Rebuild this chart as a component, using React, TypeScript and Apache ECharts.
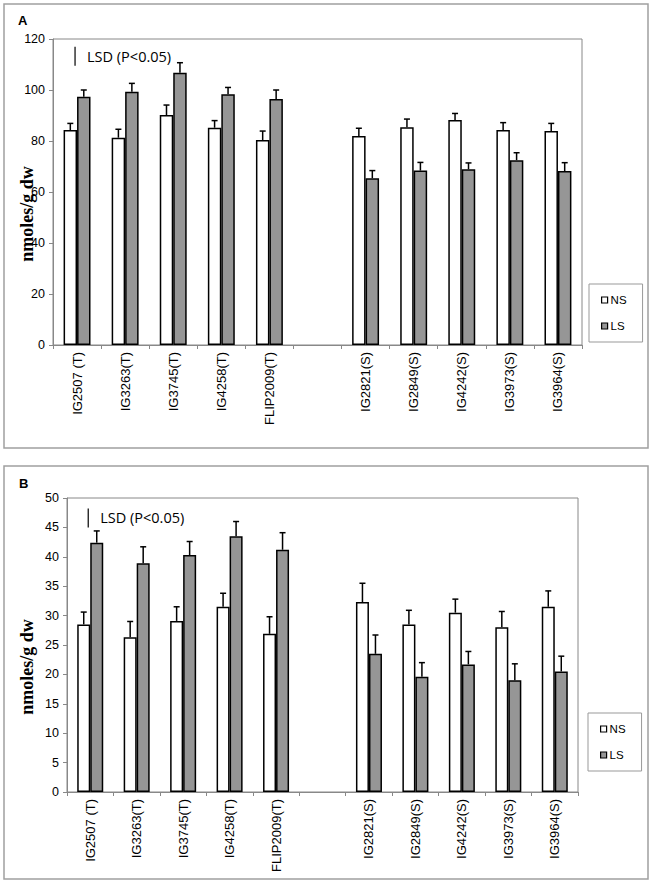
import React, { useEffect, useRef } from "react";
import * as echarts from "echarts";

const categories = [
  "IG2507 (T)", "IG3263(T)", "IG3745(T)", "IG4258(T)", "FLIP2009(T)", "",
  "IG2821(S)", "IG2849(S)", "IG4242(S)", "IG3973(S)", "IG3964(S)",
];

const aNS = [84.3, 81.3, 90.2, 85.2, 80.4, null, 82.0, 85.4, 88.2, 84.3, 83.9];
const aNSerr = [2.6, 3.3, 3.9, 2.8, 3.5, null, 3.0, 3.2, 2.6, 2.9, 3.0];
const aLS = [97.4, 99.3, 106.8, 98.3, 96.5, null, 65.4, 68.4, 68.9, 72.5, 68.2];
const aLSerr = [2.6, 3.3, 3.9, 2.7, 3.5, null, 3.0, 3.2, 2.5, 2.9, 3.3];
const aLSD = [109.5, 117];

const bNS = [28.5, 26.3, 29.1, 31.5, 26.9, null, 32.3, 28.5, 30.5, 28.0, 31.5];
const bNSerr = [2.1, 2.7, 2.4, 2.3, 2.9, null, 3.2, 2.4, 2.3, 2.7, 2.7];
const bLS = [42.4, 38.9, 40.3, 43.5, 41.2, null, 23.5, 19.6, 21.7, 19.0, 20.5];
const bLSerr = [2.0, 2.8, 2.3, 2.5, 2.9, null, 3.2, 2.4, 2.2, 2.8, 2.6];
const bLSD = [45.0, 48.2];

const seriesNames = ["NS", "LS"];
const fillColors = ["#ffffff", "#969696"];
const BAR_FRAC = 0.28;

function errData(vals: (number | null)[], errs: (number | null)[]) {
  const out: any[] = [];
  vals.forEach((v, i) => {
    if (v != null && errs[i] != null) out.push([i, v, errs[i]]);
  });
  return out;
}

function errRender(sign: number) {
  return (params: any, api: any) => {
    const i = api.value(0);
    const v = api.value(1);
    const e = api.value(2);
    const base = api.coord([i, v]);
    const top = api.coord([i, v + e]);
    const bw = api.size([1, 0])[0];
    const x = base[0] + sign * bw * BAR_FRAC / 2;
    const style = { stroke: "#000", lineWidth: 1.5 };
    return {
      type: "group",
      children: [
        { type: "line", shape: { x1: x, y1: base[1], x2: x, y2: top[1] }, style },
        { type: "line", shape: { x1: x - 3, y1: top[1], x2: x + 3, y2: top[1] }, style },
      ],
    };
  };
}

function lsdRender(params: any, api: any) {
  const lo = api.coord([0, api.value(1)]);
  const hi = api.coord([0, api.value(2)]);
  const x = lo[0] - 2;
  return {
    type: "group",
    children: [
      { type: "line", shape: { x1: x, y1: lo[1], x2: x, y2: hi[1] }, style: { stroke: "#000", lineWidth: 1.2 } },
      {
        type: "text",
        style: {
          text: "LSD (P<0.05)",
          x: x + 12,
          y: (lo[1] + hi[1]) / 2,
          fill: "#000",
          fontSize: 14.5,
          fontFamily: "Open Sans",
          verticalAlign: "middle",
          align: "left",
        },
      },
    ],
  };
}

export default function App() {
  const ref = useRef<HTMLDivElement>(null);
  useEffect(() => {
    const chart = echarts.init(ref.current!, null, { renderer: "svg" });
    const axisGray = "#888";
    const mkX = (gi: number) => ({
      type: "category",
      gridIndex: gi,
      data: categories,
      boundaryGap: true,
      axisLine: { lineStyle: { color: axisGray, width: 1 } },
      axisTick: { show: true, length: 4, lineStyle: { color: axisGray } },
      axisLabel: {
        rotate: 90,
        interval: 0,
        fontSize: 13,
        fontFamily: "Liberation Sans",
        color: "#000",
        margin: 7,
      },
    });
    const mkY = (gi: number, max: number, interval: number) => ({
      type: "value",
      gridIndex: gi,
      min: 0,
      max,
      interval,
      splitLine: { show: false },
      axisLine: { show: true, lineStyle: { color: axisGray, width: 1 } },
      axisTick: { show: true, length: 4, lineStyle: { color: axisGray } },
      axisLabel: { fontSize: 12.5, fontFamily: "Liberation Sans", color: "#000", margin: 8 },
    });
    const barSeries = (gi: number, name: string, data: any[], color: string) => ({
      type: "bar",
      name,
      xAxisIndex: gi,
      yAxisIndex: gi,
      data,
      barWidth: BAR_FRAC * 100 + "%",
      barGap: "0%",
      itemStyle: { color, borderColor: "#000", borderWidth: 1.5 },
      emphasis: { disabled: true },
    });
    const errSeries = (gi: number, name: string, data: any[], sign: number) => ({
      type: "custom",
      name: name + "_err",
      xAxisIndex: gi,
      yAxisIndex: gi,
      data,
      encode: { x: 0, y: 1 },
      renderItem: errRender(sign),
      z: 5,
      silent: true,
    });
    const lsdSeries = (gi: number, lsd: number[]) => ({
      type: "custom",
      name: "LSD",
      xAxisIndex: gi,
      yAxisIndex: gi,
      data: [[0, lsd[0], lsd[1]]],
      encode: { x: 0, y: 1 },
      renderItem: lsdRender,
      silent: true,
      z: 6,
    });
    const legend = (left: number, top: number) => ({
      left,
      top,
      orient: "vertical",
      data: [
        { name: seriesNames[0], itemStyle: { color: fillColors[0], borderColor: "#000", borderWidth: 1.2 } },
        { name: seriesNames[1], itemStyle: { color: fillColors[1], borderColor: "#000", borderWidth: 1.2 } },
      ],
      itemWidth: 6,
      itemHeight: 6,
      itemGap: 14,
      icon: "rect",
      padding: [10, 16, 10, 12],
      borderColor: "#999",
      borderWidth: 1,
      backgroundColor: "#fff",
      selectedMode: false,
      textStyle: { fontSize: 11.5, fontFamily: "Liberation Sans", color: "#000", padding: [0, 0, 0, -2] },
    });
    const yName = (x: number, y: number) => ({
      type: "text",
      x,
      y,
      rotation: Math.PI / 2,
      style: {
        text: "nmoles/g dw",
        fontSize: 18,
        fontWeight: "bold",
        fontFamily: "Liberation Serif",
        fill: "#000",
        align: "center",
        verticalAlign: "middle",
      },
    });
    chart.setOption({
      animation: false,
      backgroundColor: "#fff",
      grid: [
        { left: 53, top: 39, right: 71, bottom: 537, show: true, borderColor: axisGray, borderWidth: 1, backgroundColor: "transparent" },
        { left: 67, top: 498, right: 75, bottom: 90, show: true, borderColor: axisGray, borderWidth: 1, backgroundColor: "transparent" },
      ],
      xAxis: [mkX(0), mkX(1)],
      yAxis: [mkY(0, 120, 20), mkY(1, 50, 5)],
      legend: [legend(589, 284), legend(588, 713)],
      series: [
        barSeries(0, "NS", aNS, fillColors[0]),
        barSeries(0, "LS", aLS, fillColors[1]),
        errSeries(0, "NS", errData(aNS, aNSerr), -1),
        errSeries(0, "LS", errData(aLS, aLSerr), 1),
        lsdSeries(0, aLSD),
        barSeries(1, "NS", bNS, fillColors[0]),
        barSeries(1, "LS", bLS, fillColors[1]),
        errSeries(1, "NS", errData(bNS, bNSerr), -1),
        errSeries(1, "LS", errData(bLS, bLSerr), 1),
        lsdSeries(1, bLSD),
      ],
      graphic: [
        { type: "rect", shape: { x: 4, y: 4, width: 644, height: 444 }, style: { fill: "none", stroke: "#a0a0a0", lineWidth: 1.5 }, z: -10 },
        { type: "rect", shape: { x: 4, y: 466, width: 644, height: 413 }, style: { fill: "none", stroke: "#a0a0a0", lineWidth: 1.5 }, z: -10 },
        { type: "text", x: 18, y: 14, style: { text: "A", fontSize: 13, fontWeight: "bold", fontFamily: "Liberation Sans", fill: "#000" } },
        { type: "text", x: 19, y: 477, style: { text: "B", fontSize: 13, fontWeight: "bold", fontFamily: "Liberation Sans", fill: "#000" } },
        yName(27, 214),
        yName(27, 667),
      ],
    });
    return () => chart.dispose();
  }, []);
  return (
    <div
      ref={ref}
      style={{ position: "fixed", left: 0, top: 0, width: 653, height: 882, background: "#fff" }}
    />
  );
}
